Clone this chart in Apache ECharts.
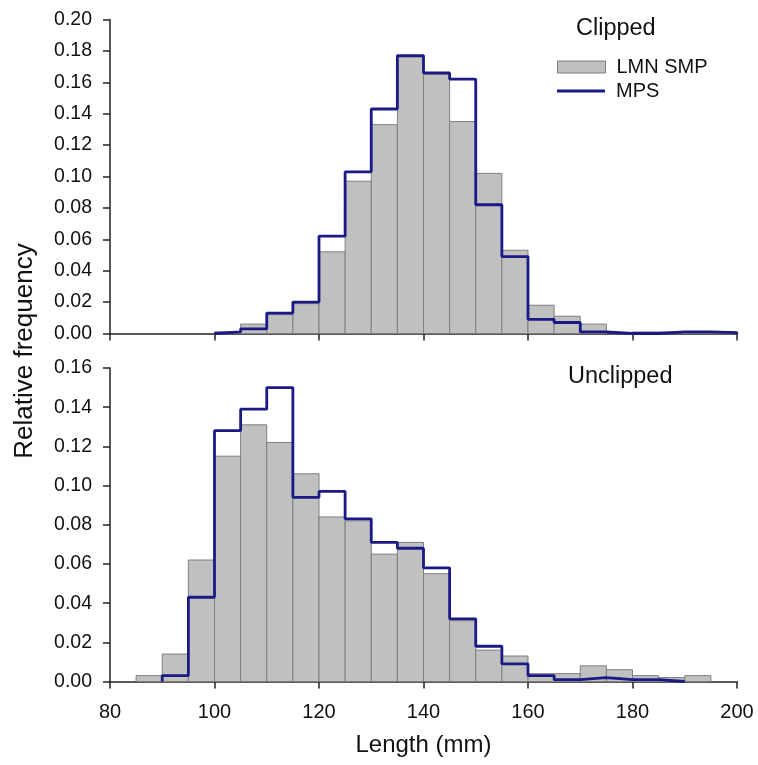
<!DOCTYPE html>
<html>
<head>
<meta charset="utf-8">
<style>
  html, body { margin: 0; padding: 0; background: #fff; }
  #chart { width: 758px; height: 765px; }
</style>
<script src="https://cdn.jsdelivr.net/npm/echarts@6/dist/echarts.min.js"></script>
</head>
<body>
<div id="chart"></div>
<script>
// Length bins (lower edges, mm); every bin is 5 mm wide
const binStarts = [80, 85, 90, 95, 100, 105, 110, 115, 120, 125, 130, 135,
                   140, 145, 150, 155, 160, 165, 170, 175, 180, 185, 190, 195];
const binWidth = 5;

// Clipped fish: relative frequency per bin
const clippedLMN = [0, 0, 0, 0, 0.001, 0.006, 0.012, 0.019, 0.052, 0.097, 0.133, 0.176,
                    0.165, 0.135, 0.102, 0.053, 0.018, 0.011, 0.006, 0, 0.001, 0.001, 0.001, 0.001];
const clippedMPS = [null, null, null, null, 0.001, 0.003, 0.013, 0.020, 0.062, 0.103, 0.143, 0.177,
                    0.166, 0.162, 0.082, 0.049, 0.009, 0.007, 0.001, 0, 0, 0.001, 0.001, 0.0005];

// Unclipped fish: relative frequency per bin
const unclippedLMN = [0, 0.003, 0.014, 0.062, 0.115, 0.131, 0.122, 0.106, 0.084, 0.082, 0.065, 0.071,
                      0.055, 0.031, 0.016, 0.013, 0.004, 0.004, 0.008, 0.006, 0.003, 0.002, 0.003, 0];
const unclippedMPS = [null, null, 0.003, 0.043, 0.128, 0.139, 0.150, 0.094, 0.097, 0.083, 0.071, 0.068,
                      0.058, 0.032, 0.018, 0.009, 0.003, 0.001, 0.002, 0.001, 0.001, 0, null, null];

// Axis ranges and tick steps
const xRange = [80, 200], xStep = 20;
const yTopRange = [0, 0.20], yBottomRange = [0, 0.16], yStep = 0.02;

const FONT = "'Liberation Sans', Arial, sans-serif";
const BAR_FILL = '#c0c0c0', BAR_EDGE = '#7f7f7f', LINE_COLOR = '#1a1a86', AXIS_COLOR = '#222';

// [lower edge, upper edge, value] rows for the histogram bars
function barRows(vals) {
  return binStarts.map((s, i) => [s, s + binWidth, vals[i]]).filter(r => r[2] > 0);
}

// Outline points for a stepped histogram line (drawn with step: 'end')
function stepPoints(vals) {
  const idx = vals.map((v, i) => v == null ? -1 : i).filter(i => i >= 0);
  const first = idx[0], last = idx[idx.length - 1];
  const pts = [[binStarts[first], 0]];
  for (let i = first; i <= last; i++) pts.push([binStarts[i], vals[i]]);
  pts.push([binStarts[last] + binWidth, 0]);
  return pts;
}

function renderBar(params, api) {
  const top = api.coord([api.value(0), api.value(2)]);
  const base = api.coord([api.value(1), 0]);
  return {
    type: 'rect',
    shape: { x: top[0], y: top[1], width: base[0] - top[0], height: base[1] - top[1] },
    style: { fill: BAR_FILL, stroke: BAR_EDGE, lineWidth: 1 }
  };
}

function xAxisCfg(gridIndex, showLabels) {
  return {
    type: 'value', gridIndex, min: xRange[0], max: xRange[1], interval: xStep,
    axisLine: { show: true, onZero: false, lineStyle: { color: AXIS_COLOR, width: 1.5 } },
    axisTick: { show: true, length: 7, lineStyle: { color: AXIS_COLOR, width: 1.5 } },
    axisLabel: { show: showLabels, margin: 21, fontFamily: FONT, fontSize: 20, color: '#111' },
    splitLine: { show: false },
    name: showLabels ? 'Length (mm)' : '',
    nameLocation: 'middle', nameGap: 52,
    nameTextStyle: { fontFamily: FONT, fontSize: 24, color: '#111' }
  };
}

function yAxisCfg(gridIndex, range) {
  return {
    type: 'value', gridIndex, min: range[0], max: range[1], interval: yStep,
    axisLine: { show: true, lineStyle: { color: AXIS_COLOR, width: 1.5 } },
    axisTick: { show: true, length: 7, lineStyle: { color: AXIS_COLOR, width: 1.5 } },
    axisLabel: { margin: 18, fontFamily: FONT, fontSize: 19.5, color: '#111',
                 formatter: v => v.toFixed(2) },
    splitLine: { show: false }
  };
}

const chart = echarts.init(document.getElementById('chart'), null, { renderer: 'canvas' });

chart.setOption({
  backgroundColor: '#fff',
  animation: false,
  grid: [
    { left: 110, right: 21, top: 19.5, height: 314 },
    { left: 110, right: 21, top: 368, height: 313.5 }
  ],
  xAxis: [xAxisCfg(0, false), xAxisCfg(1, true)],
  yAxis: [yAxisCfg(0, yTopRange), yAxisCfg(1, yBottomRange)],
  legend: [
    {
      left: 557, top: 57, itemWidth: 48, itemHeight: 12, selectedMode: false, padding: 0,
      textStyle: { fontFamily: FONT, fontSize: 20, color: '#111', padding: [0, 0, 0, 6] },
      data: [{ name: 'LMN SMP', icon: 'rect',
               itemStyle: { color: BAR_FILL, borderColor: BAR_EDGE, borderWidth: 1 } }]
    },
    {
      left: 557, top: 81, itemWidth: 48, itemHeight: 3, selectedMode: false, padding: 0,
      textStyle: { fontFamily: FONT, fontSize: 20, color: '#111', padding: [0, 0, 0, 6] },
      data: [{ name: 'MPS', icon: 'rect', itemStyle: { color: LINE_COLOR, borderWidth: 0 } }]
    }
  ],
  graphic: [
    { type: 'text', left: 576, top: 17,
      style: { text: 'Clipped', font: '23.5px ' + FONT, fill: '#111' } },
    { type: 'text', left: 568, top: 365,
      style: { text: 'Unclipped', font: '23.5px ' + FONT, fill: '#111' } },
    { type: 'text', x: 25, y: 351, rotation: Math.PI / 2,
      style: { text: 'Relative frequency', font: '26px ' + FONT, fill: '#111',
               align: 'center', verticalAlign: 'middle' } }
  ],
  series: [
    { name: 'LMN SMP', type: 'custom', xAxisIndex: 0, yAxisIndex: 0,
      encode: { x: [0, 1], y: 2 }, renderItem: renderBar, data: barRows(clippedLMN), z: 2 },
    { name: 'MPS', type: 'line', xAxisIndex: 0, yAxisIndex: 0, step: 'end', symbol: 'none',
      lineStyle: { color: LINE_COLOR, width: 2.8 }, itemStyle: { color: LINE_COLOR },
      data: stepPoints(clippedMPS), z: 3 },
    { name: 'LMN SMP', type: 'custom', xAxisIndex: 1, yAxisIndex: 1,
      encode: { x: [0, 1], y: 2 }, renderItem: renderBar, data: barRows(unclippedLMN), z: 2 },
    { name: 'MPS', type: 'line', xAxisIndex: 1, yAxisIndex: 1, step: 'end', symbol: 'none',
      lineStyle: { color: LINE_COLOR, width: 2.8 }, itemStyle: { color: LINE_COLOR },
      data: stepPoints(unclippedMPS), z: 3 }
  ]
});
</script>
</body>
</html>
